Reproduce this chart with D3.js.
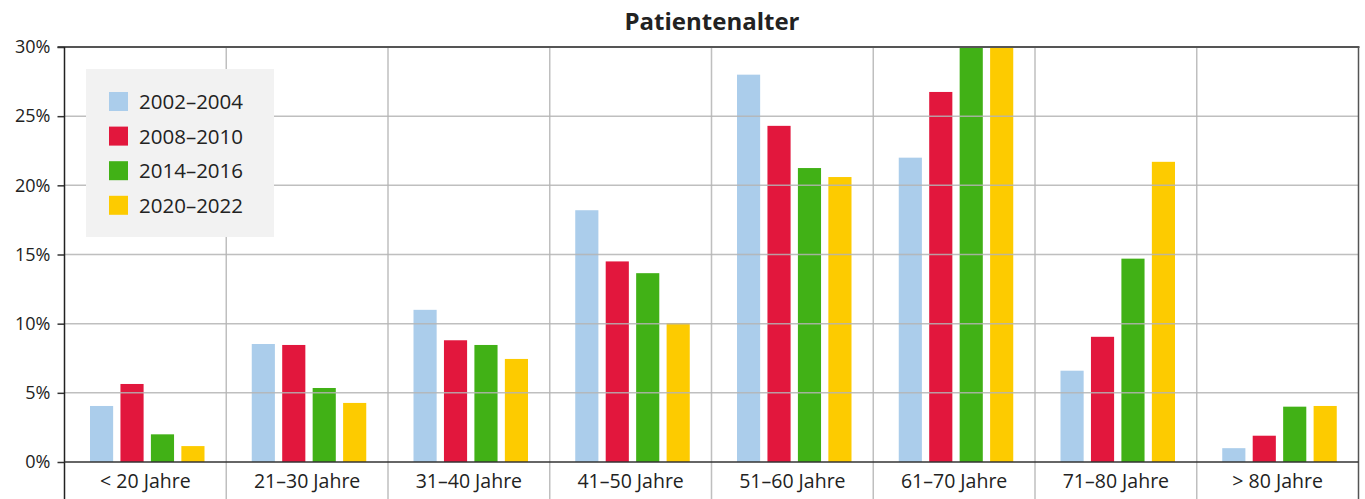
<!DOCTYPE html>
<html lang="de">
<head>
  <meta charset="UTF-8">
  <script src="https://d3js.org/d3.v7.min.js"></script>
  <title>Patientenalter</title>
  <style>
    body { margin: 0; background: #fff; }
    text { font-family: "Open Sans", "Noto Sans", sans-serif; fill: #222; }
  </style>
</head>
<body>
  <script>
    var categories = ['< 20 Jahre', '21–30 Jahre', '31–40 Jahre', '41–50 Jahre',
                      '51–60 Jahre', '61–70 Jahre', '71–80 Jahre', '> 80 Jahre'];
    var series = ['2002–2004', '2008–2010', '2014–2016', '2020–2022'];
    var colors = ['#abcdeb', '#e2173d', '#41b116', '#fdcb00'];
    var values2002 = [4.05, 8.53, 11.0, 18.2, 28.0, 22.0, 6.6, 1.0];
    var values2008 = [5.64, 8.46, 8.8, 14.5, 24.3, 26.75, 9.05, 1.9];
    var values2014 = [2.0, 5.35, 8.46, 13.65, 21.25, 30.6, 14.7, 4.0];
    var values2020 = [1.15, 4.27, 7.45, 10.05, 20.6, 31.2, 21.7, 4.05];
    var yTicks = [0, 5, 10, 15, 20, 25, 30];

    var allValues = [values2002, values2008, values2014, values2020];
    var data = categories.map(function(c, i) {
      return {cat: c, vals: series.map(function(s, j) { return {key: s, idx: j, v: allValues[j][i]}; })};
    });

    var W = 1365, H = 499;
    var plotLeft = 64.5, plotRight = 1358.5, plotTop = 47, zeroY = 462;

    var svg = d3.select('body').append('svg')
      .attr('width', W).attr('height', H);

    var x = d3.scaleBand().domain(categories).range([plotLeft, plotRight]).padding(0);
    var x1 = d3.scaleBand().domain(series).range([25.5, 140]).paddingInner(0.24);
    var y = d3.scaleLinear().domain([0, 30]).range([zeroY, plotTop]);

    svg.append('clipPath').attr('id', 'plot')
      .append('rect').attr('x', plotLeft).attr('y', plotTop)
      .attr('width', plotRight - plotLeft).attr('height', zeroY - plotTop);

    // bars
    svg.append('g').attr('clip-path', 'url(#plot)')
      .selectAll('g').data(data).enter().append('g')
      .attr('transform', function(d) { return 'translate(' + x(d.cat) + ',0)'; })
      .selectAll('rect').data(function(d) { return d.vals; })
      .enter().append('rect')
        .attr('x', function(d) { return x1(d.key); })
        .attr('width', x1.bandwidth())
        .attr('y', function(d) { return y(d.v); })
        .attr('height', function(d) { return zeroY - y(d.v); })
        .attr('fill', function(d) { return colors[d.idx]; });

    // grid (drawn over the bars)
    svg.append('g').selectAll('line').data(yTicks.slice(1, -1)).enter().append('line')
      .attr('x1', plotLeft).attr('x2', plotRight)
      .attr('y1', function(d) { return y(d); }).attr('y2', function(d) { return y(d); })
      .attr('stroke', '#b4b4b4').attr('stroke-opacity', 0.85).attr('stroke-width', 1.5);
    svg.append('g').selectAll('line').data(categories.slice(1)).enter().append('line')
      .attr('x1', function(d) { return x(d); }).attr('x2', function(d) { return x(d); })
      .attr('y1', plotTop).attr('y2', H)
      .attr('stroke', '#b4b4b4').attr('stroke-opacity', 0.85).attr('stroke-width', 1.5);

    // frame
    svg.append('line').attr('x1', plotLeft - 7).attr('x2', plotRight + 1).attr('y1', plotTop).attr('y2', plotTop)
      .attr('stroke', '#555').attr('stroke-width', 2);
    svg.append('line').attr('x1', plotRight).attr('x2', plotRight).attr('y1', plotTop).attr('y2', H)
      .attr('stroke', '#555').attr('stroke-width', 1.5);

    // y axis
    var yAxis = svg.append('g')
      .attr('transform', 'translate(' + plotLeft + ',0)')
      .call(d3.axisLeft(y).tickValues(yTicks).tickSize(7).tickPadding(7)
        .tickFormat(function(d) { return d + '%'; }));
    yAxis.select('.domain').remove();
    yAxis.selectAll('.tick line').attr('stroke', '#333').attr('stroke-width', 1.5);
    yAxis.selectAll('.tick text').style('font-size', '18px').attr('fill', '#333')
      .style('font-family', '"Open Sans", "Noto Sans", sans-serif');
    svg.append('line').attr('x1', plotLeft).attr('x2', plotLeft).attr('y1', plotTop).attr('y2', H)
      .attr('stroke', '#222').attr('stroke-width', 1.5);

    // x axis
    var xAxis = svg.append('g')
      .attr('transform', 'translate(0,' + zeroY + ')')
      .call(d3.axisBottom(x).tickSize(0).tickPadding(12));
    xAxis.select('.domain').remove();
    xAxis.selectAll('.tick text').style('font-size', '19.5px').attr('fill', '#333')
      .style('font-family', '"Open Sans", "Noto Sans", sans-serif');
    svg.append('line').attr('x1', plotLeft).attr('x2', plotRight).attr('y1', zeroY).attr('y2', zeroY)
      .attr('stroke', '#333').attr('stroke-width', 1.5);

    // title
    svg.append('text').attr('x', 712).attr('y', 30).attr('text-anchor', 'middle')
      .style('font-size', '24px').style('font-weight', 'bold').text('Patientenalter');

    // legend
    var legend = svg.append('g').attr('transform', 'translate(86,69)');
    legend.append('rect').attr('width', 188).attr('height', 168).attr('fill', '#f2f2f2');
    var items = legend.selectAll('g.item').data(series).enter().append('g').attr('class', 'item')
      .attr('transform', function(d, i) { return 'translate(23,' + (23 + i * 34.6) + ')'; });
    items.append('rect').attr('width', 19).attr('height', 19)
      .attr('fill', function(d, i) { return colors[i]; });
    items.append('text').attr('x', 30).attr('y', 17)
      .style('font-size', '20.5px').attr('fill', '#222').text(function(d) { return d; });
  </script>
</body>
</html>
